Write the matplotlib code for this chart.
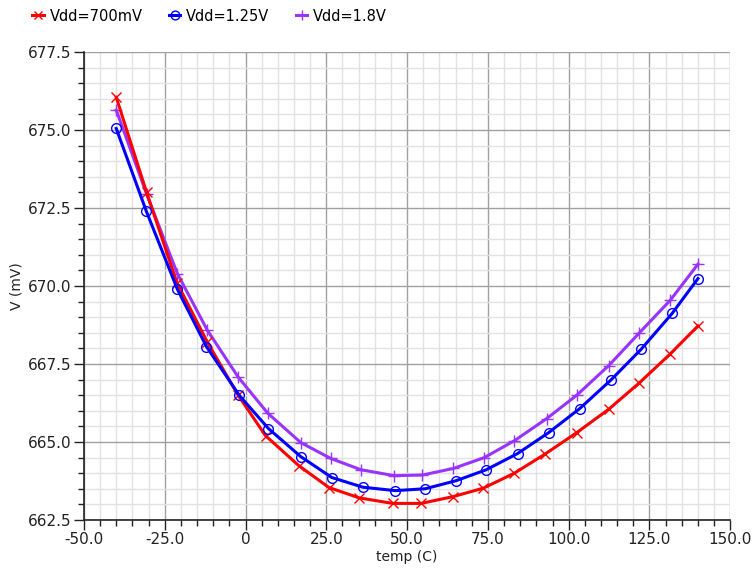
import matplotlib
matplotlib.use('Agg')
import matplotlib.pyplot as plt
from matplotlib.ticker import MultipleLocator, FuncFormatter

# temperature sweep (C) and output voltage (mV)
temp_700 = [-40, -30.6, -21.2, -11.8, -2.3, 6.2, 16.5, 25.8, 35.1, 45.5,
            54.3, 64.3, 73.6, 83.2, 92.8, 102.5, 112.4, 121.7, 131.4, 140]
v_700 = [676.05, 673.0, 670.1, 668.2, 666.5, 665.2, 664.24, 663.54, 663.21, 663.03,
         663.03, 663.25, 663.52, 664.0, 664.62, 665.3, 666.05, 666.88, 667.82, 668.72]

temp_125 = [-40, -30.7, -21.1, -12.1, -1.9, 7.1, 17.1, 26.7, 36.3, 46.3,
            55.6, 65.2, 74.5, 84.2, 93.8, 103.4, 113, 122.4, 132, 140]
v_125 = [675.05, 672.4, 669.9, 668.06, 666.49, 665.43, 664.53, 663.86, 663.55, 663.44,
         663.5, 663.76, 664.11, 664.63, 665.3, 666.07, 666.98, 667.97, 669.12, 670.24]

temp_18 = [-40, -30.6, -21.1, -11.8, -2.2, 6.9, 17.1, 26.4, 35.7, 46,
           54.7, 64.3, 73.9, 83.2, 93.2, 102.5, 112.4, 121.7, 131.4, 140]
v_18 = [675.64, 672.95, 670.4, 668.58, 667.07, 665.92, 664.98, 664.47, 664.11, 663.92,
        663.94, 664.15, 664.5, 665.04, 665.75, 666.5, 667.45, 668.48, 669.54, 670.7]

fig = plt.figure(figsize=(7.56, 5.72), dpi=100)
ax = fig.add_axes([0.111, 0.091, 0.855, 0.818])

ax.plot(temp_700, v_700, color='#ff0000', lw=2.2, marker='x', ms=7, mew=1,
        label='Vdd=700mV', zorder=3)
ax.plot(temp_125, v_125, color='#0000ff', lw=2.2, marker='o', ms=7, mew=1,
        mfc='none', label='Vdd=1.25V', zorder=4)
ax.plot(temp_18, v_18, color='#9933ff', lw=2.2, marker='+', ms=8, mew=1,
        label='Vdd=1.8V', zorder=2)

ax.set_xlim(-50, 150)
ax.set_ylim(662.5, 677.5)
ax.xaxis.set_major_locator(MultipleLocator(25))
ax.xaxis.set_minor_locator(MultipleLocator(5))
ax.yaxis.set_major_locator(MultipleLocator(2.5))
ax.yaxis.set_minor_locator(MultipleLocator(0.5))
ax.xaxis.set_major_formatter(FuncFormatter(lambda v, p: '0' if abs(v) < 1e-9 else '%.1f' % v))
ax.yaxis.set_major_formatter(FuncFormatter(lambda v, p: '%.1f' % v))

ax.grid(which='minor', color='#e2e2e2', lw=1)
ax.grid(which='major', color='#a0a0a0', lw=1)
ax.set_axisbelow(True)

for s in ['top', 'right']:
    ax.spines[s].set_visible(False)
for s in ['left', 'bottom']:
    ax.spines[s].set_color('#222222')
    ax.spines[s].set_linewidth(1.2)

ax.tick_params(which='major', length=7, width=1, color='#222222', labelsize=11,
               labelcolor='#222222', pad=2)
ax.tick_params(which='minor', length=4, width=1, color='#222222')

ax.set_xlabel('temp (C)', fontsize=10, labelpad=2, color='#222222')
ax.set_ylabel('V (mV)', fontsize=10, labelpad=3, color='#222222')

fig.legend(loc='upper left', bbox_to_anchor=(0.025, 1.008), ncol=3, frameon=False,
           fontsize=10.5, handlelength=0.8, handletextpad=0.4, columnspacing=1.8,
           markerscale=0.9)

fig.savefig('out.png', dpi=100)
